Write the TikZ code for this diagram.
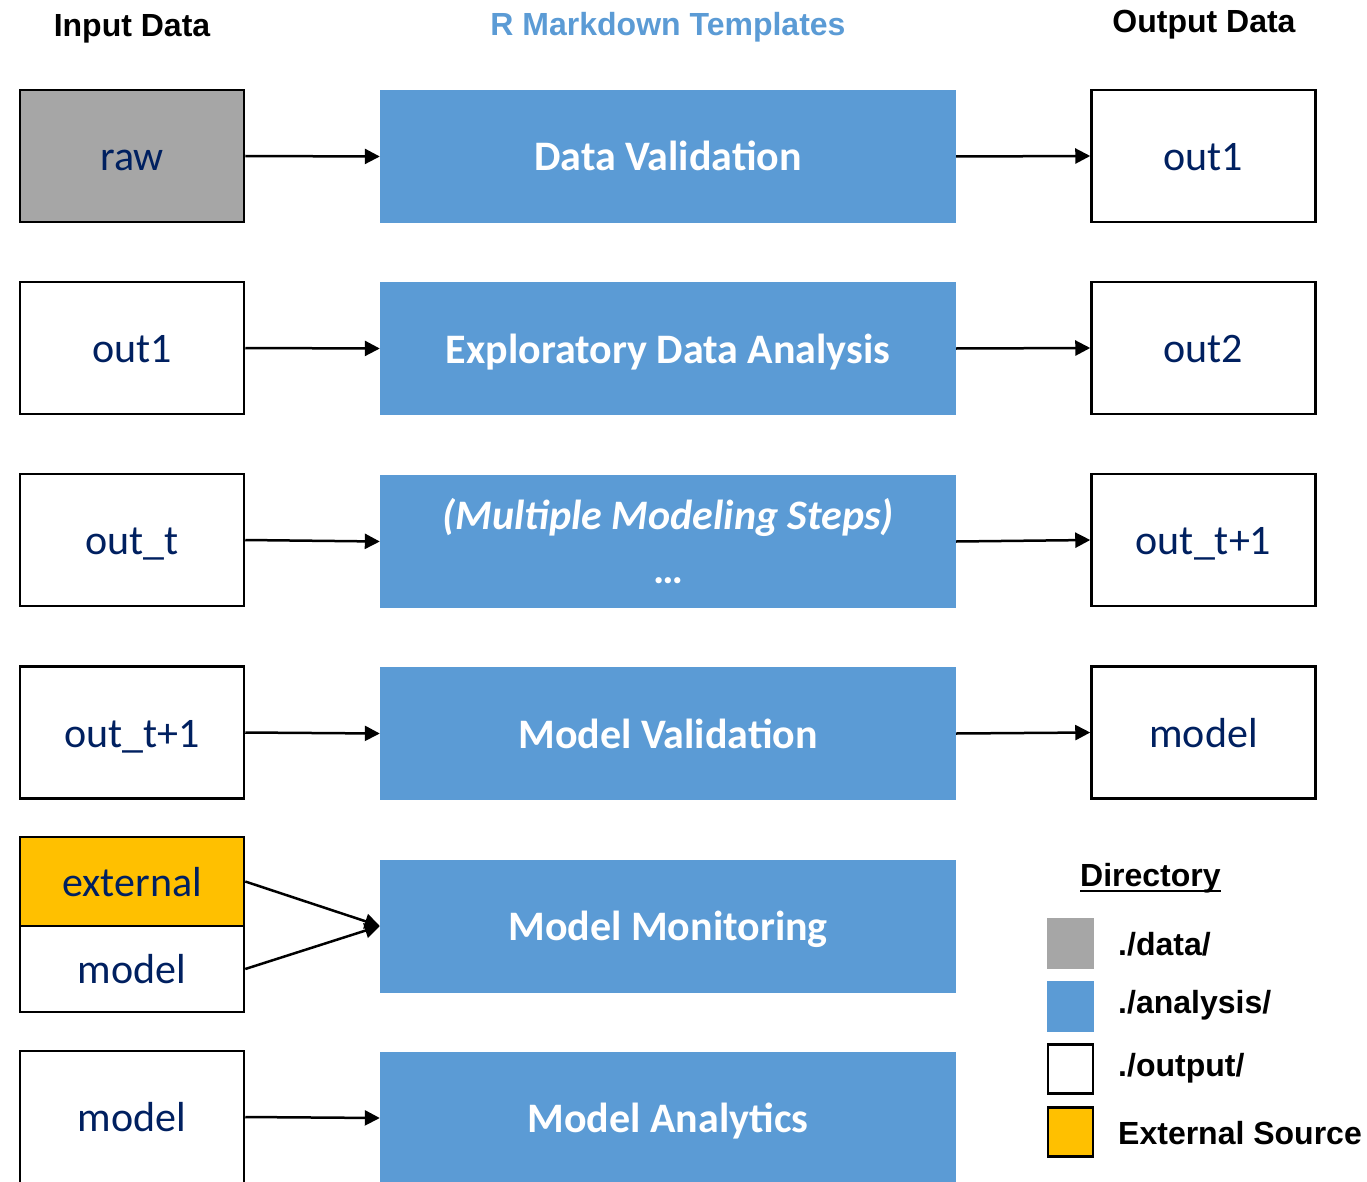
\documentclass[tikz,border=0pt]{standalone}
\usepackage{fontspec}
\setmainfont{Carlito}
\newfontfamily\headfont{Liberation Sans}
\usetikzlibrary{arrows.meta}

\definecolor{stepblue}{HTML}{5B9BD5}
\definecolor{datagray}{HTML}{A6A6A6}
\definecolor{extorange}{HTML}{FFC000}
\definecolor{labelnavy}{HTML}{002060}

\tikzset{
  iobox/.style={draw=black, line width=2.5pt, fill=white, minimum width=224pt,
    minimum height=132pt, inner sep=0pt, text=labelnavy,
    text height=29pt, text depth=0pt,
    font=\fontsize{42}{50}\selectfont},
  stepbox/.style={fill=stepblue, minimum width=576pt, minimum height=133pt,
    inner sep=0pt, text=white, text height=29pt, text depth=0pt,
    font=\fontsize{42}{50}\selectfont\bfseries},
  head/.style={font=\headfont\bfseries\fontsize{32}{38}\selectfont, inner sep=0pt, anchor=base},
  flow/.style={line width=2.5pt, -{Triangle[length=15pt,width=15pt]}},
  swatch/.style={minimum width=47pt, minimum height=51pt, inner sep=0pt},
  legtext/.style={font=\headfont\bfseries\fontsize{32}{38}\selectfont, anchor=base west, inner sep=0pt}
}

\begin{document}
\begin{tikzpicture}[x=1pt, y=-1pt]
\useasboundingbox (0,0) rectangle (1367,1182);
\clip (0,0) rectangle (1367,1182);

% column headings
\node[head] (hin) at (132,37) {Input Data};
\node[head, text=stepblue] (hmid) at (668,36) {R Markdown Templates};
\node[head] (hout) at (1204,33) {Output Data};

% input data
\node[iobox, fill=datagray] (in1) at (132,156) {raw};
\node[iobox] (in2) at (132,348) {out1};
\node[iobox] (in3) at (132,540) {out\_t};
\node[iobox] (in4) at (132,732.5) {out\_t+1};
\node[iobox, fill=extorange, minimum height=89pt] (ext) at (132,881.5) {external};
\node[iobox, minimum height=86pt] (in5) at (132,969) {model};
\node[iobox] (in6) at (132,1117) {model};

% analysis templates
\node[stepbox] (s1) at (668,156.5) {Data Validation};
\node[stepbox] (s2) at (668,348.5) {Exploratory Data Analysis};
\node[stepbox] (s3) at (668,541.5) {};
\node[text=white, font=\fontsize{42}{50}\selectfont\bfseries\itshape, inner sep=0pt, anchor=base]
  (s3a) at (668,529) {(Multiple Modeling Steps)};
\node[text=white, font=\fontsize{42}{50}\selectfont\bfseries, inner sep=0pt, anchor=base]
  (s3b) at (668,583) {\ldots};
\node[stepbox] (s4) at (668,733.5) {Model Validation};
\node[stepbox] (s5) at (668,926) {Model Monitoring};
\node[stepbox] (s6) at (668,1118) {Model Analytics};

% output data
\node[iobox] (o1) at (1203.5,156) {out1};
\node[iobox] (o2) at (1203.5,348) {out2};
\node[iobox] (o3) at (1203.5,540) {out\_t+1};
\node[iobox] (o4) at (1203.5,732.5) {model};

% connectors
\draw[flow] (in1.east) -- (s1.west);
\draw[flow] (in2.east) -- (s2.west);
\draw[flow] (in3.east) -- (s3.west);
\draw[flow] (in4.east) -- (s4.west);
\draw[flow] (ext.east) -- (s5.west);
\draw[flow] (in5.east) -- (s5.west);
\draw[flow] (in6.east) -- (s6.west);
\draw[flow] (s1.east) -- (o1.west);
\draw[flow] (s2.east) -- (o2.west);
\draw[flow] (s3.east) -- (o3.west);
\draw[flow] (s4.east) -- (o4.west);

% legend
\node[legtext] (dir) at (1080,886) {Directory};
\draw[line width=2.2pt] ([yshift=-5pt]dir.base west) -- ([yshift=-5pt]dir.base east);
\node[swatch, fill=datagray] (lg1) at (1070.5,943.5) {};
\node[swatch, fill=stepblue] (lg2) at (1070.5,1006) {};
\node[swatch, draw=black, line width=2.5pt, fill=white, minimum width=45pt, minimum height=49pt] (lg3) at (1070.5,1069) {};
\node[swatch, draw=black, line width=2.5pt, fill=extorange, minimum width=45pt, minimum height=49pt] (lg4) at (1070.5,1132) {};
\node[legtext] (lt1) at (1118,955) {./data/};
\node[legtext] (lt2) at (1118,1013) {./analysis/};
\node[legtext] (lt3) at (1118,1076) {./output/};
\node[legtext] (lt4) at (1118,1144) {External Source};
\end{tikzpicture}
\end{document}
